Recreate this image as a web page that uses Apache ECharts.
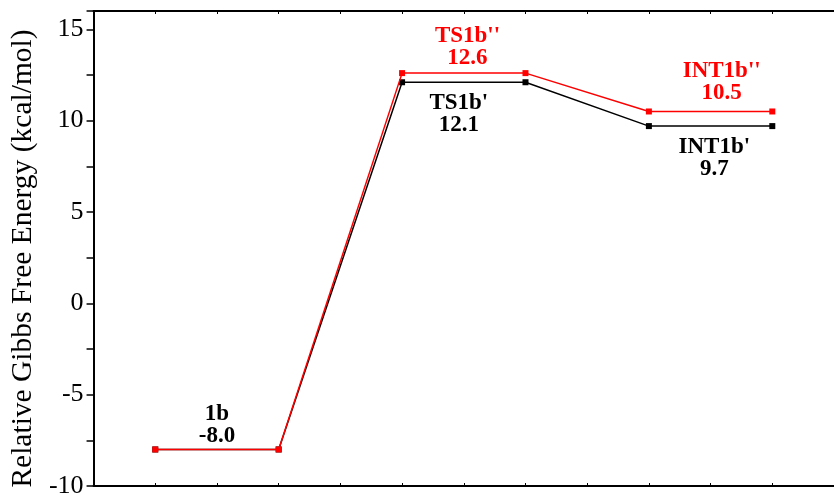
<!DOCTYPE html>
<html>
<head>
<meta charset="utf-8">
<script src="https://cdn.jsdelivr.net/npm/echarts@6/dist/echarts.min.js"></script>
<style>
html,body{margin:0;padding:0;background:#fff;}
#c{width:834px;height:499px;}
</style>
</head>
<body>
<div id="c"></div>
<script>
const xPositions = [1, 3, 5, 7, 9, 11];
const blackValues = [-8.0, -8.0, 12.1, 12.1, 9.7, 9.7];
const redValues = [-8.0, -8.0, 12.6, 12.6, 10.5, 10.5];
const yTicks = [-10, -5, 0, 5, 10, 15];

const labelNames = ["1b", "TS1b''", "TS1b'", "INT1b''", "INT1b'"];
const labelValues = ["-8.0", "12.6", "12.1", "10.5", "9.7"];
const labelColors = ["#000000", "#ff0000", "#000000", "#ff0000", "#000000"];
const labelX = [2.0, 6.06, 5.92, 10.18, 10.06];
const labelY = [-6.65, 14.05, 10.35, 12.1, 7.95];

const chart = echarts.init(document.getElementById('c'), null, {renderer: 'canvas'});

const labelData = labelNames.map((n, i) => ({
  value: [labelX[i], labelY[i]],
  label: {
    show: true,
    position: 'inside',
    formatter: n + '\n' + labelValues[i],
    color: labelColors[i],
    opacity: 1,
    textBorderWidth: 0,
    fontFamily: 'Liberation Serif',
    fontWeight: 'bold',
    fontSize: 23,
    lineHeight: 22,
    align: 'center'
  }
}));

const option = {
  animation: false,
  backgroundColor: '#ffffff',
  grid: {left: 90, right: -6, top: 11, bottom: 10, containLabel: false},
  xAxis: [{
    type: 'value', min: 0, max: 12, interval: 1,
    axisLine: {show: true, onZero: false, lineStyle: {color: '#000', width: 2}},
    axisTick: {show: true, inside: true, length: 3, lineStyle: {color: '#000', width: 1}},
    axisLabel: {show: false},
    splitLine: {show: false}
  }, {
    type: 'value', min: 0, max: 12, interval: 1, position: 'top',
    axisLine: {show: true, onZero: false, lineStyle: {color: '#000', width: 2}},
    axisTick: {show: true, inside: true, length: 3, lineStyle: {color: '#000', width: 1}},
    axisLabel: {show: false},
    splitLine: {show: false}
  }],
  yAxis: {
    type: 'value', min: -10, max: 16, interval: 5,
    name: 'Relative Gibbs Free Energy (kcal/mol)',
    nameLocation: 'middle',
    nameGap: 47,
    nameTextStyle: {fontFamily: 'Liberation Serif', fontSize: 29.5, color: '#000', padding: [0, 20, 0, 0]},
    axisLine: {show: true, onZero: false, lineStyle: {color: '#000', width: 2}},
    axisTick: {show: true, inside: false, length: 7, lineStyle: {color: '#000', width: 1.5}},
    minorTick: {show: true, splitNumber: 2, length: 7, lineStyle: {color: '#000', width: 1.5}},
    axisLabel: {
      fontFamily: 'Liberation Serif', fontSize: 26, color: '#000', margin: 10,
      formatter: v => (yTicks.indexOf(v) >= 0 ? String(v) : '')
    },
    splitLine: {show: false}
  },
  series: [{
    type: 'line',
    data: xPositions.map((x, i) => [x, blackValues[i]]),
    symbol: 'rect', symbolSize: 6, showSymbol: true,
    lineStyle: {color: '#000', width: 1.5},
    itemStyle: {color: '#000'},
    z: 2
  }, {
    type: 'line',
    data: xPositions.map((x, i) => [x, redValues[i]]),
    symbol: 'rect', symbolSize: 6, showSymbol: true,
    lineStyle: {color: '#ff0000', width: 1.5},
    itemStyle: {color: '#ff0000'},
    z: 3
  }, {
    type: 'scatter',
    data: labelData,
    symbolSize: 0,
    itemStyle: {color: 'transparent', opacity: 1},
    z: 4
  }]
};
chart.setOption(option);
</script>
</body>
</html>
